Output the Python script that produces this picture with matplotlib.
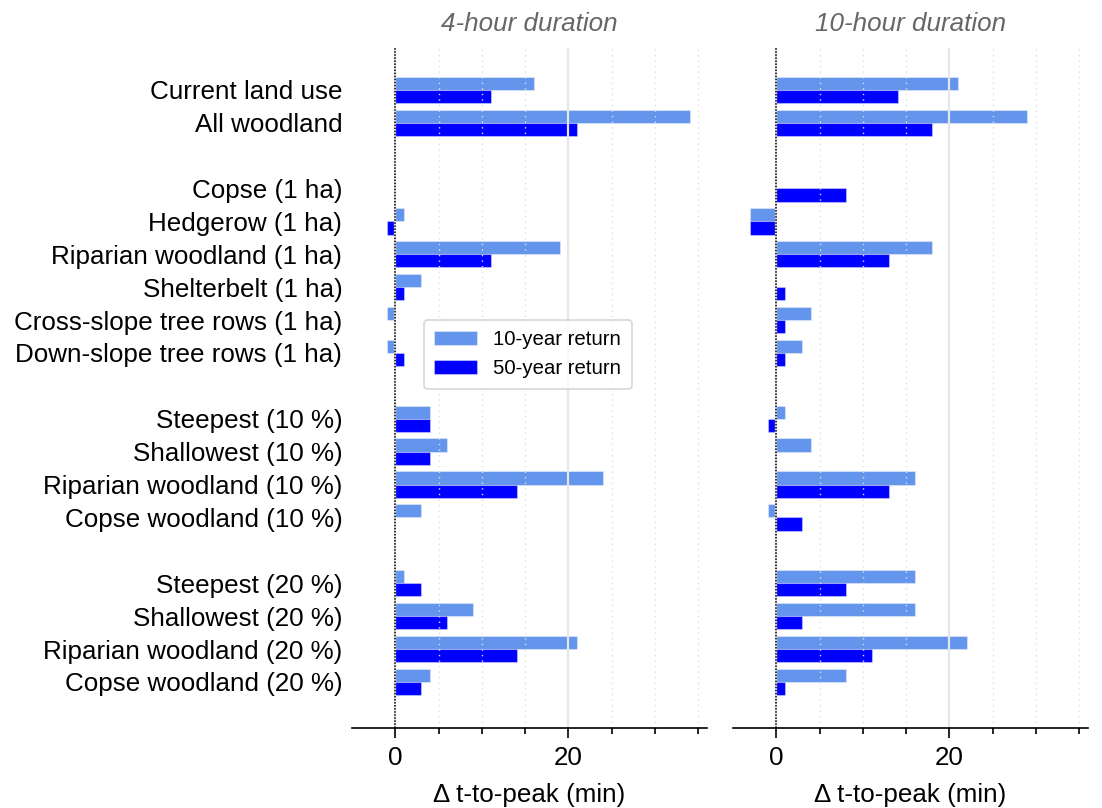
import numpy as np
import matplotlib
matplotlib.use("Agg")
import matplotlib.pyplot as plt
from matplotlib.ticker import FixedLocator

plt.rcParams['font.family'] = ['Liberation Sans', 'DejaVu Sans']

# Scenario labels; None marks a blank spacer row between groups
categories = [
    "Current land use", "All woodland", None,
    "Copse (1 ha)", "Hedgerow (1 ha)", "Riparian woodland (1 ha)",
    "Shelterbelt (1 ha)", "Cross-slope tree rows (1 ha)", "Down-slope tree rows (1 ha)", None,
    "Steepest (10 %)", "Shallowest (10 %)", "Riparian woodland (10 %)", "Copse woodland (10 %)", None,
    "Steepest (20 %)", "Shallowest (20 %)", "Riparian woodland (20 %)", "Copse woodland (20 %)",
]

# Change in time-to-peak (minutes) for each scenario (spacers excluded)
dur4_rp10 = [16, 34, 0, 1, 19, 3, -1, -1, 4, 6, 24, 3, 1, 9, 21, 4]
dur4_rp50 = [11, 21, 0, -1, 11, 1, 0, 1, 4, 4, 14, 0, 3, 6, 14, 3]
dur10_rp10 = [21, 29, 0, -3, 18, 0, 4, 3, 1, 4, 16, -1, 16, 16, 22, 8]
dur10_rp50 = [14, 18, 8, -3, 13, 1, 1, 1, -1, 0, 13, 3, 8, 3, 11, 1]

panel_titles = ["4-hour duration", "10-hour duration"]
series_labels = ["10-year return", "50-year return"]
xlabel = "\u0394 t-to-peak (min)"

rows = [i for i, c in enumerate(categories) if c is not None]
row_labels = [c for c in categories if c is not None]
ypos = np.array(rows, dtype=float)

c10 = "#6495ED"
c50 = "#0000FF"
bar_h = 0.4
fs = 18.7

fig = plt.figure(figsize=(11.02, 8.08), dpi=100)
ax_w = 355 / 1102
ax_b = 80 / 808
ax_h = 680 / 808
axes = [fig.add_axes([352 / 1102, ax_b, ax_w, ax_h]),
        fig.add_axes([733 / 1102, ax_b, ax_w, ax_h])]

data = [(dur4_rp10, dur4_rp50), (dur10_rp10, dur10_rp50)]

for k, (ax, (v10, v50)) in enumerate(zip(axes, data)):
    ax.barh(ypos - bar_h / 2, v10, height=bar_h, color=c10,
            edgecolor=(1, 1, 1, 0.35), linewidth=0.8, label=series_labels[0])
    ax.barh(ypos + bar_h / 2, v50, height=bar_h, color=c50,
            edgecolor=(1, 1, 1, 0.35), linewidth=0.8, label=series_labels[1])
    ax.axvline(0, color="black", linestyle=(0, (1, 1)), linewidth=1.1, zorder=3)

    ax.set_xlim(-5, 36)
    ax.set_ylim(18 + 1.4, -1.27)

    ax.xaxis.set_major_locator(FixedLocator([0, 20]))
    ax.xaxis.set_minor_locator(FixedLocator([5, 10, 15, 25, 30, 35]))
    ax.grid(True, which="major", axis="x", color="#e6e6e6", linewidth=1.6, linestyle="-")
    ax.grid(True, which="minor", axis="x", color="#dedede", linewidth=1.0, linestyle=(0, (1, 3)))
    ax.tick_params(axis="x", which="major", length=7, width=1.2, labelsize=fs, pad=6)
    ax.tick_params(axis="x", which="minor", length=4, width=1.2)
    ax.tick_params(axis="y", length=0, labelsize=fs, pad=7)

    for s in ("top", "right", "left"):
        ax.spines[s].set_visible(False)
    ax.spines["bottom"].set_linewidth(1.2)

    ax.set_yticks(ypos)
    if k == 0:
        ax.set_yticklabels(row_labels)
    else:
        ax.set_yticklabels([])

    ax.set_xlabel(xlabel, fontsize=fs, labelpad=9)
    ax.set_title(panel_titles[k], fontsize=fs, style="italic", color="#666666", pad=12)

leg = axes[0].legend(loc="upper left", bbox_to_anchor=(0.203, 0.6), borderaxespad=0,
                     fontsize=14.7, handlelength=2.1, handleheight=0.7,
                     frameon=True, fancybox=True, edgecolor="#cccccc",
                     borderpad=0.5, labelspacing=0.5, handletextpad=0.8)
leg.get_frame().set_linewidth(1.2)

fig.savefig("out.png", dpi=100)
